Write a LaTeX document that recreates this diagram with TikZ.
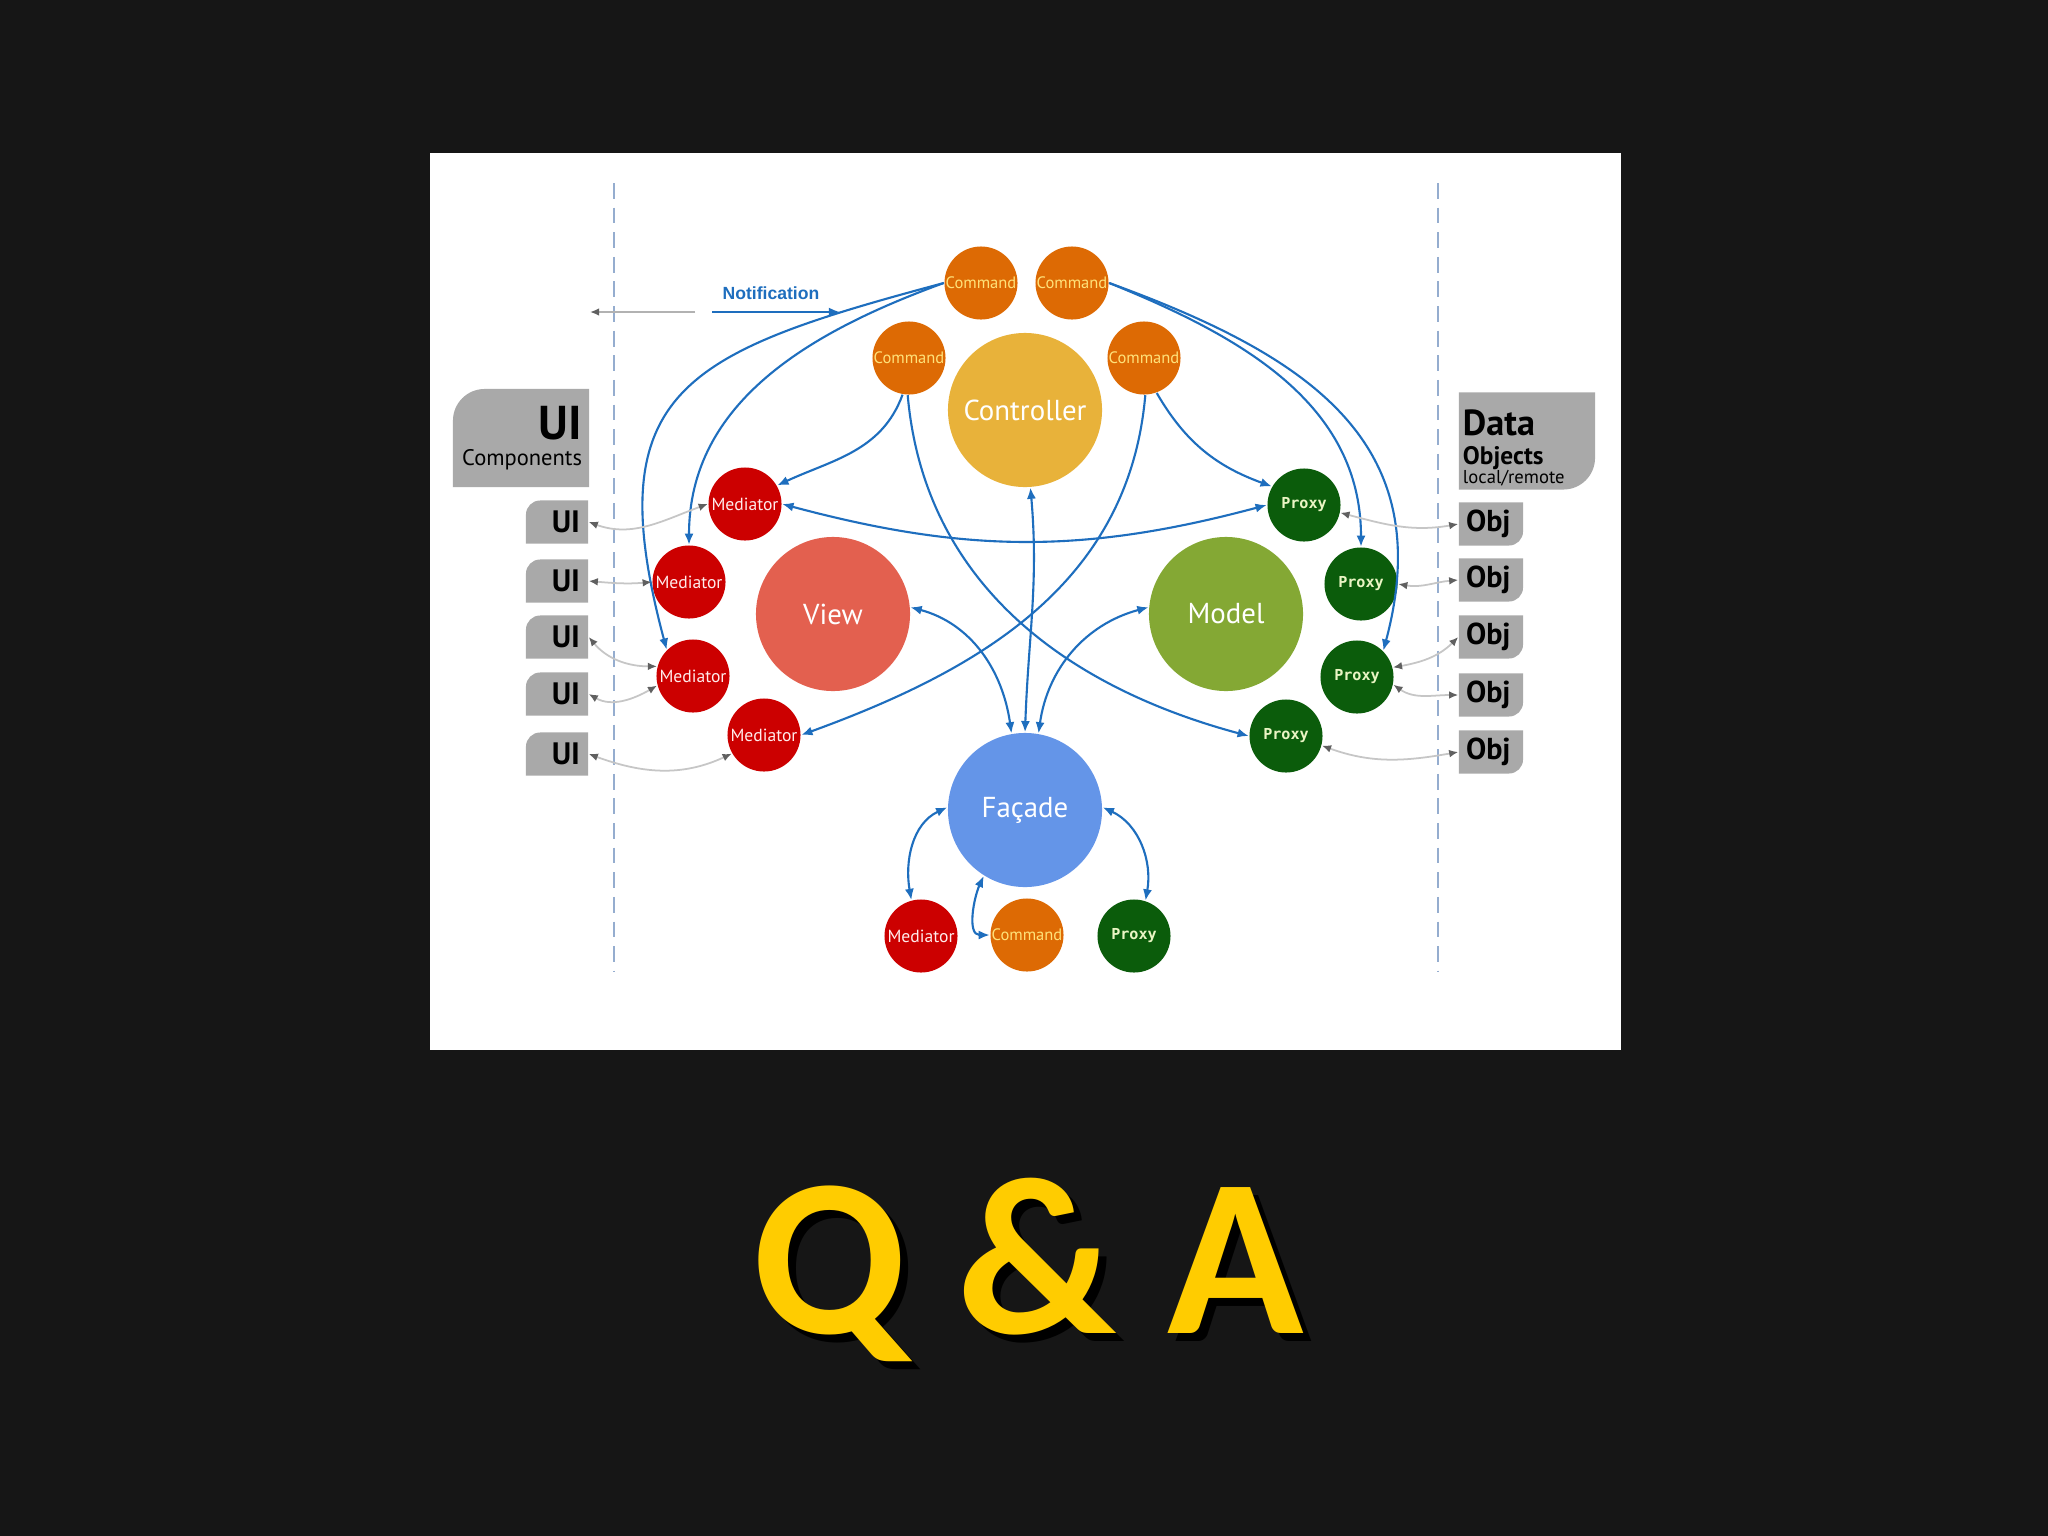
\documentclass[tikz,border=0pt]{standalone}
\usepackage{fontspec}
\setmainfont{PT Sans}
\newfontfamily\qafont{Carlito}
\newfontfamily\notefont{Liberation Sans}
\newfontfamily\monofont{DejaVu Sans Mono}
\usetikzlibrary{arrows.meta}

\definecolor{board}{HTML}{161616}
\definecolor{flowblue}{HTML}{1E6EBE}
\definecolor{cmdorange}{HTML}{DD6A04}
\definecolor{cmdtext}{HTML}{FFE27A}
\definecolor{ctrlyellow}{HTML}{E8B23A}
\definecolor{medred}{HTML}{CC0000}
\definecolor{viewred}{HTML}{E3604F}
\definecolor{prxgreen}{HTML}{0B5C0B}
\definecolor{prxtext}{HTML}{EAF5C4}
\definecolor{modelgreen}{HTML}{84A834}
\definecolor{facblue}{HTML}{6495E8}
\definecolor{boxgray}{HTML}{A9A9A9}
\definecolor{guide}{HTML}{95ADCF}
\definecolor{qayellow}{HTML}{FFCC00}

\tikzset{
  topleft/.style={fill=white, path picture={
    \fill[boxgray] (path picture bounding box.south west)
      -- ([yshift=-#1]path picture bounding box.north west)
      arc[start angle=180, end angle=90, radius=#1]
      -- (path picture bounding box.north east)
      -- (path picture bounding box.south east) -- cycle;}},
  botright/.style={fill=white, path picture={
    \fill[boxgray] (path picture bounding box.south west)
      -- (path picture bounding box.north west)
      -- (path picture bounding box.north east)
      -- ([yshift=#1]path picture bounding box.south east)
      arc[start angle=0, end angle=-90, radius=#1] -- cycle;}}
}

\begin{document}
\begin{tikzpicture}[x=0.01cm, y=0.01cm, >={Latex[length=3.2pt,width=2.6pt]},
  small/.style={circle, minimum size=0.73cm, inner sep=0pt},
  big/.style={circle, minimum size=1.54cm, inner sep=0pt, text=white, font=\fontsize{8.2}{9}\selectfont},
  cmd/.style={small, fill=cmdorange, text=cmdtext, font=\fontsize{4.7}{6}\selectfont},
  med/.style={small, fill=medred, text=white!92!red, font=\fontsize{5}{6}\selectfont},
  prx/.style={small, fill=prxgreen, text=prxtext, font=\monofont\bfseries\fontsize{4.3}{5}\selectfont},
  flow/.style={draw=flowblue, line width=0.6pt},
  link/.style={<->, draw=gray!45, line width=0.5pt, >={Latex[length=2.6pt,width=2.2pt,color=gray!75!black]}},
  uibox/.style={topleft=4pt, minimum width=0.62cm, minimum height=0.43cm, inner sep=0pt,
    text width=0.46cm, align=right, font=\bfseries\fontsize{8.8}{9}\selectfont},
  objbox/.style={botright=4pt, minimum width=0.64cm, minimum height=0.43cm, inner sep=0pt,
    text width=0.5cm, align=left, font=\bfseries\fontsize{8.6}{9}\selectfont}]

  \useasboundingbox (0,0) rectangle (2048,-1536); % 画像の大きさ
  \fill[board] (0,0) rectangle (2048,-1536); % 黒板
  \fill[white] (430,-153) rectangle (1621,-1050); % 図の台紙

  \draw[guide, line width=0.5pt, dash pattern=on 4.5pt off 2.5pt] (614,-183) -- (614,-972); % 境界線
  \draw[guide, line width=0.5pt, dash pattern=on 4.5pt off 2.5pt] (1438,-183) -- (1438,-972); % 境界線

  % Notification
  \node[font=\notefont\bfseries\fontsize{5}{6}\selectfont, text=flowblue] (note) at (771,-293) {Notification};
  \coordinate (grayfrom) at (695,-312);
  \coordinate (grayto) at (590,-312);
  \coordinate (bluefrom) at (712,-312);
  \coordinate (blueto) at (840,-312);
  \draw[->, draw=gray!60, line width=0.5pt, >={Latex[length=2.6pt,width=2.2pt,color=gray!75!black]}] (grayfrom) -- (grayto);
  \draw[flow, ->] (bluefrom) -- (blueto);

  % Controller
  \node[cmd] (cmdA) at (981,-283) {Command};
  \node[cmd] (cmdB) at (1072,-283) {Command};
  \node[cmd] (cmdC) at (909,-358) {Command};
  \node[cmd] (cmdD) at (1144,-358) {Command};
  \node[big, fill=ctrlyellow] (ctrl) at (1025,-410) {Controller};

  % View
  \node[med] (med1) at (745,-504) {Mediator};
  \node[med] (med2) at (689,-582) {Mediator};
  \node[med] (med3) at (693,-676) {Mediator};
  \node[med] (med4) at (764,-735) {Mediator};
  \node[big, fill=viewred] (view) at (833,-614) {View};

  % Model
  \node[prx] (prx1) at (1304,-505) {Proxy};
  \node[prx] (prx2) at (1361,-584) {Proxy};
  \node[prx] (prx3) at (1357,-677) {Proxy};
  \node[prx] (prx4) at (1286,-736) {Proxy};
  \node[big, fill=modelgreen] (model) at (1226,-614) {Model};

  % Facade
  \node[big, fill=facblue] (fac) at (1025,-810) {Façade};
  \node[med] (medB) at (921,-936) {Mediator};
  \node[cmd] (cmdE) at (1027,-935) {Command};
  \node[prx] (prxB) at (1134,-936) {Proxy};

  % UI Components
  \node[topleft=9pt, minimum width=1.36cm, minimum height=0.98cm, inner sep=0pt, text width=1.22cm, align=right,
    font=\fontsize{6.4}{7.6}\selectfont] (uihead) at (521,-438)
    {{\bfseries\fontsize{13.5}{12}\selectfont UI}\\Components};
  \node[uibox] (ui1) at (557,-522) {UI};
  \node[uibox] (ui2) at (557,-581) {UI};
  \node[uibox] (ui3) at (557,-637) {UI};
  \node[uibox] (ui4) at (557,-694) {UI};
  \node[uibox] (ui5) at (557,-754) {UI};

  % Data Objects
  \node[botright=9pt, minimum width=1.36cm, minimum height=0.97cm, inner sep=0pt] (datahead) at (1527,-441) {};
  \node[text width=1.28cm, align=left, inner sep=0pt, font=\fontsize{7.2}{8.2}\selectfont] (datatext) at (1527,-448)
    {{\bfseries\fontsize{10.3}{10}\selectfont Data}\\{\bfseries Objects}\\[-2.9pt]{\fontsize{5.3}{6}\selectfont local/remote}};
  \node[objbox] (obj1) at (1491,-524) {Obj};
  \node[objbox] (obj2) at (1491,-580) {Obj};
  \node[objbox] (obj3) at (1491,-637) {Obj};
  \node[objbox] (obj4) at (1491,-695) {Obj};
  \node[objbox] (obj5) at (1491,-752) {Obj};

  % 通知の矢印
  \draw[flow, ->] (cmdA.west) to[out=200, in=90] (med2.north);
  \draw[flow, ->] (cmdA.west) to[out=195, in=105, looseness=1.5] (med3.135);
  \draw[flow, ->] (cmdC.260) to[out=-110, in=25] (med1.30);
  \draw[flow, ->] (cmdC.268) to[out=-85, in=165] (prx4.west);
  \draw[flow, ->] (cmdD.272) to[out=-95, in=20] (med4.east);
  \draw[flow, ->] (cmdD.290) to[out=-60, in=160] (prx1.150);
  \draw[flow, ->] (cmdB.east) to[out=-22, in=90] (prx2.north);
  \draw[flow, ->] (cmdB.east) to[out=-20, in=75, looseness=1.2] (prx3.45);
  \draw[flow, <->] (med1.east) to[out=-15, in=195] (prx1.west);
  \draw[flow, <->] (ctrl.-86) to[out=-85, in=88] (fac.90);
  \draw[flow, <->] (view.5) to[out=-15, in=98] (fac.100);
  \draw[flow, <->] (model.175) to[out=195, in=82] (fac.80);
  \draw[flow, <->] (fac.178) to[out=205, in=100] (medB.105);
  \draw[flow, <->] (fac.238) to[out=245, in=180] (cmdE.west);
  \draw[flow, <->] (fac.2) to[out=-25, in=80] (prxB.72);

  % 部品との結び
  \draw[link] (ui1.east) to[out=-20, in=200] (med1.west);
  \draw[link] (ui2.east) to[out=-5, in=185] (med2.west);
  \draw[link] (ui3.east) to[out=-50, in=180] (med3.165);
  \draw[link] (ui4.east) to[out=-30, in=210] (med3.195);
  \draw[link] (ui5.east) to[out=-20, in=205] (med4.210);
  \draw[link] (prx1.-12) to[out=-15, in=190] (obj1.west);
  \draw[link] (prx2.east) to[out=-10, in=185] (obj2.west);
  \draw[link] (prx3.15) to[out=10, in=225] (obj3.west);
  \draw[link] (prx3.-12) to[out=-35, in=180] (obj4.west);
  \draw[link] (prx4.-15) to[out=-20, in=190] (obj5.west);

  % Q & A（影つき）
  \node[font=\qafont\bfseries\fontsize{64}{64}\selectfont, text=qayellow] (qa) at (1028,-1274)
    {\rlap{\hspace{0.08cm}\raisebox{-0.08cm}{\color{black}Q \& A}}Q \& A};
\end{tikzpicture}
\end{document}
